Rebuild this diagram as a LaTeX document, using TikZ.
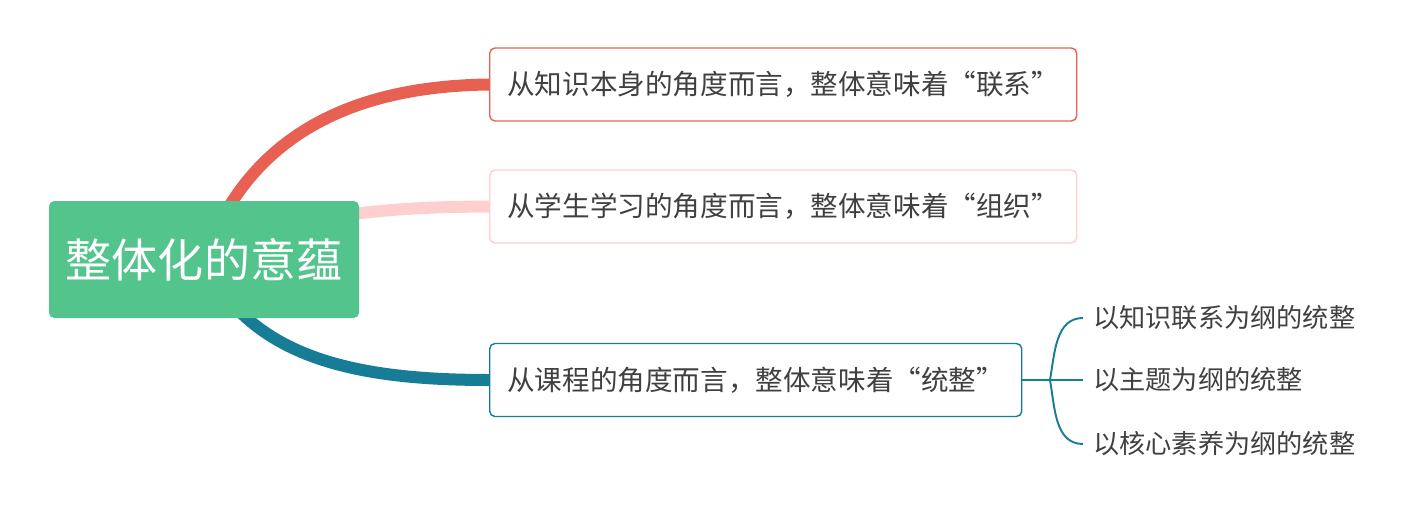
\documentclass[tikz,border=0pt]{standalone}
\usepackage{fontspec}
\setmainfont{Noto Sans CJK SC}
\usepackage{tikz}
\usetikzlibrary{positioning, calc, backgrounds}
\definecolor{rootgreen}{RGB}{82,196,140}
\definecolor{linkred}{RGB}{232,96,82}
\definecolor{linkpink}{RGB}{255,206,206}
\definecolor{linkteal}{RGB}{23,124,150}
\definecolor{textgray}{RGB}{64,64,64}

\begin{document}
\begin{tikzpicture}[
    rootbox/.style={fill=rootgreen, rounded corners=3pt, text=white, minimum width=6.2cm, minimum height=2.34cm, font=\fontsize{26.2}{31}\selectfont},
    topicbox/.style={draw=#1, line width=0.8pt, fill=white, rounded corners=3pt, anchor=west, inner xsep=0.2cm, minimum height=1.46cm, text=textgray, font=\fontsize{15.7}{19}\selectfont},
    leaftext/.style={anchor=west, inner sep=0.2cm, text=textgray, font=\fontsize{14.9}{18}\selectfont},
    branch/.style={line width=0.24cm, #1},
    brace/.style={line width=1.1pt, linkteal}
]
    \useasboundingbox (0,0) rectangle (28.34,10.38);

    % central topic
    \node[rootbox] (root) at (4.08,5.19) {整体化的意蕴};

    % main topics
    \node[topicbox=linkred, minimum width=11.74cm] (know) at (9.78,8.69) {从知识本身的角度而言，整体意味着“联系”};
    \node[topicbox=linkpink, minimum width=11.74cm] (learn) at (9.78,6.25) {从学生学习的角度而言，整体意味着“组织”};
    \node[topicbox=linkteal, minimum width=10.64cm] (course) at (9.78,2.78) {从课程的角度而言，整体意味着“统整”};

    % sub topics
    \node[leaftext] (leafa) at (21.66,4.02) {以知识联系为纲的统整};
    \node[leaftext] (leafb) at (21.66,2.78) {以主题为纲的统整};
    \node[leaftext] (leafc) at (21.66,1.50) {以核心素养为纲的统整};
    \coordinate (fork) at (21.0,2.78);

    % thick branches behind the boxes
    \begin{scope}[on background layer]
        \draw[branch=linkred] (root.center) .. controls (5.0,7.78) and (7.2,8.66) .. (know.west);
        \draw[branch=linkpink] (root.center) .. controls (5.8,6.15) and (8.0,6.24) .. (learn.west);
        \draw[branch=linkteal] (root.center) .. controls (5.0,3.18) and (7.2,2.78) .. (course.west);
    \end{scope}

    % brace to sub topics
    \draw[brace] (course.east) -- (fork);
    \draw[brace] (fork) to[out=80, in=180] (leafa.west);
    \draw[brace] (fork) -- (leafb.west);
    \draw[brace] (fork) to[out=-80, in=180] (leafc.west);
\end{tikzpicture}
\end{document}
